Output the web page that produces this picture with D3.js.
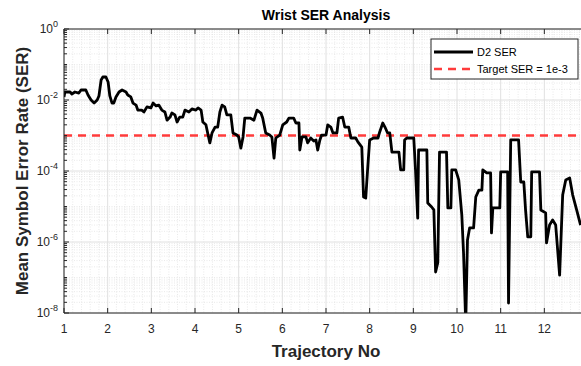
<!DOCTYPE html>
<html>
<head>
<meta charset="utf-8">
<script src="https://cdn.jsdelivr.net/npm/d3@7"></script>
<style>
  body { margin: 0; background: #fff; }
  svg { display: block; font-family: "Liberation Sans", Arial, sans-serif; }
</style>
</head>
<body>
<svg id="chart" width="581" height="366"></svg>
<script>
// D2 SER
const traj = [1.00, 1.02, 1.14, 1.18, 1.25, 1.34, 1.39, 1.50, 1.55, 1.62, 1.69, 1.76, 1.80, 1.85, 1.89, 1.96, 2.01, 2.05, 2.10, 2.14,
  2.19, 2.26, 2.33, 2.42, 2.46, 2.53, 2.58, 2.65, 2.69, 2.78, 2.83, 2.90, 2.99, 3.04, 3.11, 3.17, 3.24, 3.31, 3.36, 3.43,
  3.47, 3.54, 3.59, 3.65, 3.72, 3.77, 3.86, 3.93, 4.02, 4.07, 4.14, 4.18, 4.25, 4.30, 4.34, 4.39, 4.46, 4.52, 4.57, 4.62,
  4.68, 4.73, 4.82, 4.87, 4.96, 5.00, 5.05, 5.10, 5.14, 5.26, 5.35, 5.42, 5.51, 5.55, 5.62, 5.71, 5.76, 5.81, 5.85, 5.94,
  6.01, 6.10, 6.15, 6.26, 6.31, 6.38, 6.40, 6.45, 6.54, 6.58, 6.65, 6.72, 6.77, 6.81, 6.86, 6.90, 7.00, 7.04, 7.11, 7.16,
  7.25, 7.29, 7.38, 7.43, 7.52, 7.57, 7.68, 7.73, 7.82, 7.86, 7.91, 7.96, 8.00, 8.09, 8.19, 8.23, 8.30, 8.35, 8.41, 8.46,
  8.51, 8.67, 8.71, 8.78, 8.80, 8.85, 9.01, 9.05, 9.10, 9.12, 9.31, 9.33, 9.42, 9.47, 9.51, 9.56, 9.60, 9.76, 9.79, 9.86,
  9.88, 9.97, 10.04, 10.11, 10.15, 10.20, 10.24, 10.29, 10.38, 10.43, 10.50, 10.57, 10.59, 10.68, 10.77, 10.79, 10.82, 10.98, 11.00, 11.16,
  11.18, 11.23, 11.41, 11.46, 11.53, 11.57, 11.62, 11.69, 11.71, 11.89, 11.92, 12.03, 12.05, 12.12, 12.19, 12.26, 12.35, 12.42, 12.49, 12.58,
  12.65, 12.74, 12.83];
const ser = [0.0122, 0.0168, 0.0168, 0.0148, 0.0168, 0.0157, 0.0191, 0.0191, 0.0138, 0.0100, 0.0082, 0.0100, 0.0130, 0.0366, 0.0445, 0.0445, 0.0321, 0.0130, 0.0082, 0.0082,
  0.0122, 0.0168, 0.0191, 0.0168, 0.0138, 0.0122, 0.0082, 0.0072, 0.0052, 0.0052, 0.0046, 0.0064, 0.0060, 0.0082, 0.0068, 0.0072, 0.0052, 0.0046, 0.0027, 0.0033,
  0.0043, 0.0038, 0.0024, 0.0033, 0.0033, 0.0052, 0.0046, 0.0056, 0.0052, 0.0060, 0.0052, 0.0024, 0.0020, 0.00103, 0.00062, 0.00118, 0.00173, 0.00173, 0.0046, 0.0072,
  0.0064, 0.0038, 0.0038, 0.00118, 0.00103, 0.00091, 0.00044, 0.00091, 0.0031, 0.0031, 0.0027, 0.0052, 0.0043, 0.0031, 0.00118, 0.00103, 0.00091, 0.00023, 0.00085, 0.00103,
  0.0020, 0.0024, 0.0031, 0.0031, 0.00225, 0.00225, 0.00039, 0.00091, 0.00091, 0.00062, 0.00085, 0.0007, 0.00075, 0.00039, 0.00075, 0.00103, 0.00103, 0.0020, 0.00173, 0.00118,
  0.00118, 0.0031, 0.0033, 0.00173, 0.00173, 0.00085, 0.00085, 0.00066, 0.00047, 1.85e-5, 1.73e-5, 0.000148, 0.00075, 0.00085, 0.00085, 0.00126, 0.00225, 0.00173, 0.00118, 0.00118,
  0.00034, 0.00034, 0.000107, 0.000107, 0.00075, 0.00085, 0.00085, 0.000107, 4.7e-6, 0.00039, 0.00039, 1.26e-5, 9.7e-6, 8.0e-6, 1.43e-7, 2.6e-7, 0.00034, 0.00034, 9.1e-6, 9.1e-6,
  0.000107, 0.000107, 5.6e-5, 5.8e-6, 4.9e-7, 5e-9, 1.14e-6, 2.5e-6, 2.5e-6, 1.85e-5, 2.9e-5, 2.9e-5, 0.000107, 8.8e-5, 8.8e-5, 1.8e-6, 9.1e-6, 9.1e-6, 9.4e-5, 9.4e-5,
  1.9e-8, 0.00075, 0.00075, 4.9e-5, 4.9e-5, 8.0e-6, 1.4e-6, 1.4e-6, 9.4e-5, 9.4e-5, 8.0e-6, 6.6e-6, 9.4e-7, 3.0e-6, 4.2e-6, 3.0e-6, 1.17e-7, 2.1e-5, 5.6e-5, 6.4e-5,
  2.1e-5, 8.0e-6, 3.0e-6];
const targetSER = 1e-3;
const xTicks = [1, 2, 3, 4, 5, 6, 7, 8, 9, 10, 11, 12, 13];
const yTickExps = [0, -2, -4, -6, -8];
const legendLabels = ["D2 SER", "Target SER = 1e-3"];

const svg = d3.select("#chart");
const m = { left: 64, top: 29, bottom: 313, right: 588 };
const x = d3.scaleLinear().domain([1, 13]).range([m.left, m.right]);
const y = d3.scaleLog().domain([1e-8, 1]).range([m.bottom, m.top]);
const axisCol = "#262626";

svg.append("defs").append("clipPath").attr("id", "clip")
  .append("rect").attr("x", m.left).attr("y", m.top - 2)
  .attr("width", m.right - m.left).attr("height", m.bottom - m.top + 2);

const grid = svg.append("g");
// minor grid
const minorY = [];
for (let e = -8; e < 0; e++) for (let k = 1; k < 10; k++) {
  if (!(k === 1 && e % 2 === 0)) minorY.push(k * Math.pow(10, e));
}
grid.selectAll(".my").data(minorY).enter().append("line")
  .attr("x1", m.left).attr("x2", m.right)
  .attr("y1", d => y(d)).attr("y2", d => y(d))
  .attr("stroke", "#dcdcdc").attr("stroke-width", 0.6).attr("stroke-dasharray", "1,1.5");
const minorX = d3.range(1, 13.01, 0.2).filter(v => Math.abs(v - Math.round(v)) > 0.01);
grid.selectAll(".mx").data(minorX).enter().append("line")
  .attr("x1", d => x(d)).attr("x2", d => x(d))
  .attr("y1", m.top).attr("y2", m.bottom)
  .attr("stroke", "#dcdcdc").attr("stroke-width", 0.6).attr("stroke-dasharray", "1,1.5");
// major grid
grid.selectAll(".gy").data(yTickExps).enter().append("line")
  .attr("x1", m.left).attr("x2", m.right)
  .attr("y1", d => y(Math.pow(10, d))).attr("y2", d => y(Math.pow(10, d)))
  .attr("stroke", "#e0e0e0").attr("stroke-width", 1);
grid.selectAll(".gx").data(xTicks).enter().append("line")
  .attr("x1", d => x(d)).attr("x2", d => x(d))
  .attr("y1", m.top).attr("y2", m.bottom)
  .attr("stroke", "#e0e0e0").attr("stroke-width", 1);

// target line
svg.append("line")
  .attr("x1", x(1)).attr("x2", x(13))
  .attr("y1", y(targetSER)).attr("y2", y(targetSER))
  .attr("stroke", "#ff3b3b").attr("stroke-width", 2.5).attr("stroke-dasharray", "8,6");

// SER line
const line = d3.line().x((d, i) => x(traj[i])).y(d => y(d));
svg.append("path").datum(ser)
  .attr("clip-path", "url(#clip)")
  .attr("d", line)
  .attr("fill", "none").attr("stroke", "#000").attr("stroke-width", 2.8)
  .attr("stroke-linejoin", "round");

// axes box
const ax = svg.append("g").attr("stroke", axisCol).attr("stroke-width", 1);
ax.append("line").attr("x1", m.left).attr("x2", m.right).attr("y1", m.top).attr("y2", m.top);
ax.append("line").attr("x1", m.left).attr("x2", m.right).attr("y1", m.bottom).attr("y2", m.bottom);
ax.append("line").attr("x1", m.left).attr("x2", m.left).attr("y1", m.top).attr("y2", m.bottom);
xTicks.forEach(t => {
  ax.append("line").attr("x1", x(t)).attr("x2", x(t)).attr("y1", m.bottom).attr("y2", m.bottom - 5);
  ax.append("line").attr("x1", x(t)).attr("x2", x(t)).attr("y1", m.top).attr("y2", m.top + 5);
});
minorY.forEach(v => {
  ax.append("line").attr("x1", m.left).attr("x2", m.left + 3).attr("y1", y(v)).attr("y2", y(v));
});
yTickExps.forEach(e => {
  ax.append("line").attr("x1", m.left).attr("x2", m.left + 5)
    .attr("y1", y(Math.pow(10, e))).attr("y2", y(Math.pow(10, e)));
});

// tick labels
svg.append("g").selectAll("text").data(xTicks.filter(t => t < 13)).enter().append("text")
  .attr("x", d => x(d)).attr("y", m.bottom + 20)
  .attr("text-anchor", "middle").attr("font-size", 12).attr("fill", axisCol)
  .text(d => d);
const yl = svg.append("g").selectAll("text").data(yTickExps).enter().append("text")
  .attr("x", m.left - 6).attr("y", d => y(Math.pow(10, d)) + 4)
  .attr("text-anchor", "end").attr("font-size", 12).attr("fill", axisCol);
yl.append("tspan").text("10");
yl.append("tspan").attr("dy", -6).attr("font-size", 9).text(d => d === 0 ? "0" : "-" + Math.abs(d));

// titles
svg.append("text").attr("x", (m.left + m.right) / 2).attr("y", 20)
  .attr("text-anchor", "middle").attr("font-size", 14).attr("font-weight", "bold").attr("fill", "#000")
  .text("Wrist SER Analysis");
svg.append("text").attr("x", (m.left + m.right) / 2).attr("y", 357)
  .attr("text-anchor", "middle").attr("font-size", 17).attr("font-weight", "bold").attr("fill", axisCol)
  .text("Trajectory No");
svg.append("text").attr("transform", `translate(28,${(m.top + m.bottom) / 2}) rotate(-90)`)
  .attr("text-anchor", "middle").attr("font-size", 17).attr("font-weight", "bold").attr("fill", axisCol)
  .text("Mean Symbol Error Rate (SER)");

// legend
const lg = svg.append("g").attr("transform", "translate(431,39)");
lg.append("rect").attr("width", 147).attr("height", 40)
  .attr("fill", "#fff").attr("stroke", axisCol).attr("stroke-width", 1);
lg.append("line").attr("x1", 3).attr("x2", 42).attr("y1", 13).attr("y2", 13)
  .attr("stroke", "#000").attr("stroke-width", 2.8);
lg.append("line").attr("x1", 3).attr("x2", 42).attr("y1", 30).attr("y2", 30)
  .attr("stroke", "#ff3b3b").attr("stroke-width", 2.5).attr("stroke-dasharray", "8,6");
lg.selectAll("text").data(legendLabels).enter().append("text")
  .attr("x", 46).attr("y", (d, i) => 17 + i * 17)
  .attr("font-size", 11).attr("fill", "#000")
  .text(d => d);
</script>
</body>
</html>
